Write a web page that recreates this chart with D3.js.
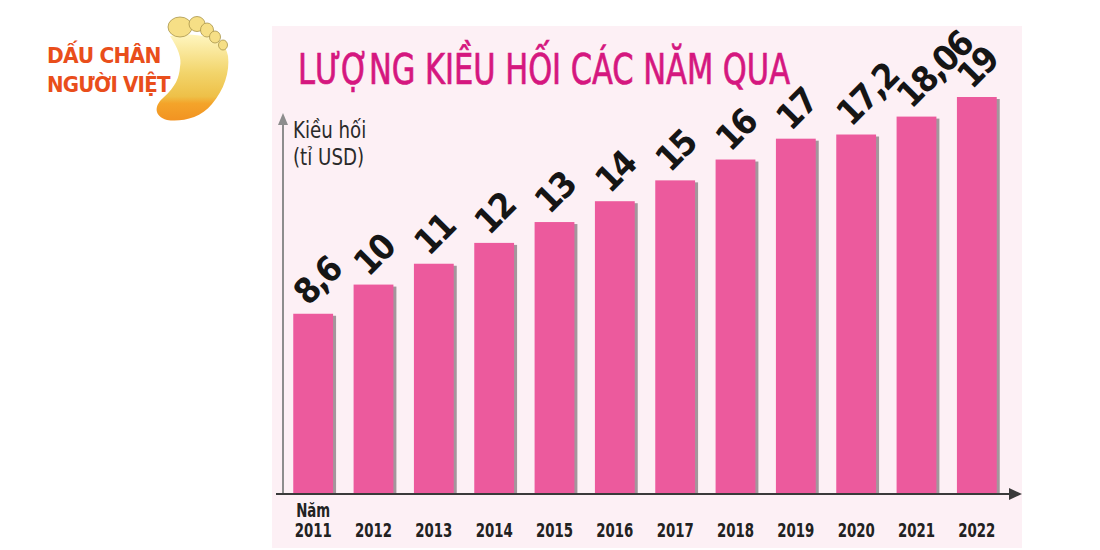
<!DOCTYPE html>
<html><head><meta charset="utf-8">
<script src="https://cdn.jsdelivr.net/npm/d3@7"></script>
<style>
html,body{margin:0;padding:0;background:#fff;}
svg{display:block;}
</style></head>
<body>
<svg id="chart" width="1100" height="550"></svg>
<script>
const years = ["2011","2012","2013","2014","2015","2016","2017","2018","2019","2020","2021","2022"];
const values = [8.6, 10, 11, 12, 13, 14, 15, 16, 17, 17.2, 18.06, 19];
const valueLabels = ["8,6","10","11","12","13","14","15","16","17","17,2","18,06","19"];
const title = "LƯỢNG KIỀU HỐI CÁC NĂM QUA";
const yLabel = ["Kiều hối", "(tỉ USD)"];
const xLabel = "Năm";

const COND = "'DejaVu Sans Condensed','Liberation Sans Narrow',sans-serif";
const svg = d3.select("#chart");

// panel
svg.append("rect").attr("x",272).attr("y",26).attr("width",750).attr("height",522).attr("fill","#fdf0f5");

const x = d3.scaleBand().domain(years).range([283,1007]).paddingInner(0.34).paddingOuter(0.17);
const y = d3.scaleLinear().domain([0,19]).range([493, 97]);

// title
svg.append("text").attr("x",298).attr("y",84).text(title)
  .attr("font-family",COND).attr("font-size",43).attr("fill","#d5177f")
  .attr("stroke","#d5177f").attr("stroke-width",0.7)
  .attr("textLength",492).attr("lengthAdjust","spacingAndGlyphs");

// bars: shadow + bar
const g = svg.append("g");
g.selectAll("rect.sh").data(values).join("rect").attr("class","sh")
  .attr("x",(d,i)=>x(years[i])+3).attr("y",d=>y(d)+2)
  .attr("width",x.bandwidth()).attr("height",d=>y(0)-y(d)-2)
  .attr("fill","#a3969c");
g.selectAll("rect.bar").data(values).join("rect").attr("class","bar")
  .attr("x",(d,i)=>x(years[i])).attr("y",d=>y(d))
  .attr("width",x.bandwidth()).attr("height",d=>y(0)-y(d))
  .attr("fill","#ec5a9d");

// value labels
g.selectAll("text.val").data(values).join("text").attr("class","val")
  .attr("transform",(d,i)=>`translate(${x(years[i])+15},${y(d)-7}) rotate(-45)`)
  .text((d,i)=>valueLabels[i])
  .attr("font-family",COND).attr("font-weight","bold").attr("font-size",35)
  .attr("letter-spacing",-2).attr("fill","#151515");

// y axis line with arrow
svg.append("line").attr("x1",283).attr("x2",283).attr("y1",122).attr("y2",494)
  .attr("stroke","#8d8d8d").attr("stroke-width",2);
svg.append("path").attr("d","M283,113 L278,125 L288,125 Z").attr("fill","#8d8d8d");
yLabel.forEach((t,i)=>{
  svg.append("text").attr("transform",`translate(293,${138+i*27}) scale(0.88,1)`).text(t)
    .attr("font-family",COND).attr("font-size",23).attr("fill","#2a2a2a");
});

// x axis
const xAxis = d3.axisBottom(x).tickSize(0).tickPadding(30);
const ax = svg.append("g").attr("transform","translate(0,494)").call(xAxis);
ax.select(".domain").remove();
ax.selectAll("text").attr("font-family",COND).attr("font-weight","bold").attr("font-size",19)
  .attr("fill","#222").attr("transform","scale(0.78,1)");
svg.append("line").attr("x1",276).attr("x2",1012).attr("y1",494).attr("y2",494)
  .attr("stroke","#3a3a3a").attr("stroke-width",2);
svg.append("path").attr("d","M1022,494 L1009,488 L1009,500 Z").attr("fill","#3a3a3a");
svg.append("text").attr("transform",`translate(${x("2011")+x.bandwidth()/2},517) scale(0.78,1)`)
  .attr("text-anchor","middle").text(xLabel)
  .attr("font-family",COND).attr("font-weight","bold").attr("font-size",19).attr("fill","#222");

// logo
const logo = svg.append("g");
const grad = svg.append("defs").append("linearGradient").attr("id","foot").attr("x1",0).attr("y1",0).attr("x2",0).attr("y2",1);
grad.append("stop").attr("offset","0%").attr("stop-color","#fff6c0");
grad.append("stop").attr("offset","45%").attr("stop-color","#f2d46a");
grad.append("stop").attr("offset","72%").attr("stop-color","#eec048");
grad.append("stop").attr("offset","80%").attr("stop-color","#f4a42a");
grad.append("stop").attr("offset","100%").attr("stop-color","#f29322");
logo.append("path")
  .attr("d","M170,36 C178,48 182,58 180,67 C179,78 176,86 163,98 C154,106 154,116 167,120 C180,122 200,119 212,104 C224,90 230,72 228,56 C226,46 221,40 212,38 C200,35 185,33 170,36 Z")
  .attr("fill","url(#foot)");
[[180,27,12,10],[197,24,8,7.5],[207,30,6.5,7],[215,37,5.5,6],[223,45,4.5,5]].forEach(([cx,cy,rx,ry])=>{
  logo.append("ellipse").attr("cx",cx).attr("cy",cy).attr("rx",rx).attr("ry",ry)
    .attr("fill","#f6df86").attr("stroke","#a8944a").attr("stroke-width",0.8);
});
logo.append("text").attr("transform","translate(47,63) scale(1.02,1)").text("DẤU CHÂN")
  .attr("font-family",COND).attr("font-weight","bold").attr("font-size",22).attr("fill","#e94e1b").attr("letter-spacing",-0.8);
logo.append("text").attr("transform","translate(47,92) scale(1.0,1)").text("NGƯỜI VIỆT")
  .attr("font-family",COND).attr("font-weight","bold").attr("font-size",22).attr("fill","#e94e1b").attr("letter-spacing",-0.8);
</script>
</body></html>
